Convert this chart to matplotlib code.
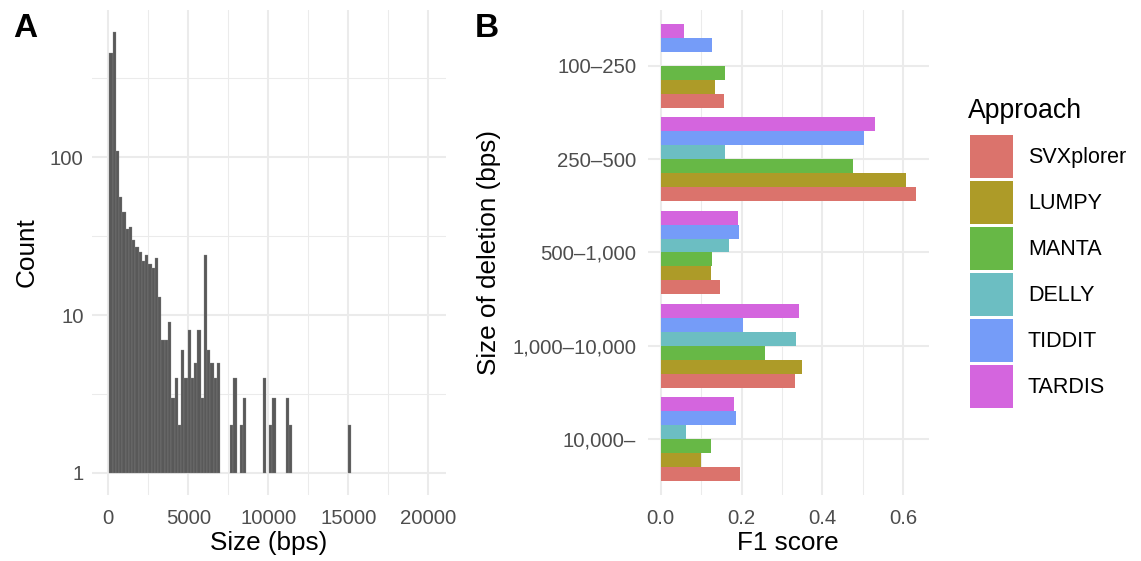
import numpy as np
import matplotlib
matplotlib.use("Agg")
import matplotlib.pyplot as plt
from matplotlib.patches import Patch

plt.rcParams['font.family'] = ['Liberation Sans', 'DejaVu Sans']

# ---- panel A data: histogram of deletion sizes (log10 counts) ----
bin_start = 60
bin_width = 204
bin_counts = [460, 621, 110, 56, 45, 35, 36, 30, 27, 25,
              22, 24, 21, 20, 23, 13, 7, 7, 9, 3,
              4, 2, 6, 4, 8, 4, 5, 8, 3, 24,
              6, 5, 4, 5, 0, 0, 0, 2, 4, 0,
              2, 3, 0, 0, 0, 0, 0, 4, 0, 2,
              3, 0, 0, 0, 3, 2, 0, 0, 0, 0,
              0, 0, 0, 0, 0, 0, 0, 0, 0, 0,
              0, 0, 0, 2]

# ---- panel B data: F1 score per size class ----
size_classes = ["100\u2013250", "250\u2013500", "500\u20131,000", "1,000\u201310,000", "10,000\u2013"]
approaches = ["SVXplorer", "LUMPY", "MANTA", "DELLY", "TIDDIT", "TARDIS"]
f1_svxplorer = [0.156, 0.631, 0.146, 0.332, 0.196]
f1_lumpy = [0.135, 0.606, 0.124, 0.350, 0.100]
f1_manta = [0.159, 0.477, 0.126, 0.258, 0.125]
f1_delly = [0.0, 0.159, 0.168, 0.334, 0.063]
f1_tiddit = [0.128, 0.504, 0.194, 0.204, 0.185]
f1_tardis = [0.058, 0.531, 0.192, 0.341, 0.182]
colors = ["#DB736C", "#AD9B28", "#67B846", "#6CBEC2", "#759CF8", "#D465DE"]

grid_col = "#EBEBEB"
tick_col = "#4D4D4D"
tick_fs = 14.7
title_fs = 18.8

fig = plt.figure(figsize=(11.41, 5.61), dpi=100)
W, H = 1141, 561
axA = fig.add_axes([92 / W, 1 - 495 / H, 354 / W, 485 / H])
axB = fig.add_axes([648 / W, 1 - 495 / H, 280.6 / W, 485 / H])

for ax in (axA, axB):
    for s in ax.spines.values():
        s.set_visible(False)
    ax.set_axisbelow(True)
    ax.tick_params(which='both', length=0, colors=tick_col, labelsize=tick_fs)
    ax.grid(which='major', color=grid_col, lw=1.5)
    ax.grid(which='minor', color=grid_col, lw=0.75)

# panel A
counts = np.array(bin_counts)
lefts = bin_start + bin_width * np.arange(len(counts))
show = counts >= 1
axA.bar(lefts[show], counts[show] - 1, width=bin_width, bottom=1, align='edge',
        color="#595959", edgecolor="#8c8c8c", linewidth=0.2)
axA.set_yscale('log')
axA.set_xlim(-1019, 21106)
axA.set_ylim(10 ** -0.14, 10 ** 2.933)
axA.set_xticks([0, 5000, 10000, 15000, 20000])
axA.set_xticklabels(["0", "5000", "10000", "15000", "20000"])
axA.set_xticks([2500, 7500, 12500, 17500], minor=True)
axA.set_yticks([1, 10, 100])
axA.set_yticklabels(["1", "10", "100"])
axA.set_yticks([10 ** 0.5, 10 ** 1.5, 10 ** 2.5], minor=True)
axA.yaxis.set_minor_formatter(plt.NullFormatter())
axA.tick_params(axis='x', pad=10)
axA.tick_params(axis='y', pad=6)
axA.set_xlabel("Size (bps)", fontsize=title_fs, labelpad=2)
axA.set_ylabel("Count", fontsize=title_fs, labelpad=8)

# panel B
ypos = np.arange(len(size_classes))[::-1] + 1.0
series = [f1_svxplorer, f1_lumpy, f1_manta, f1_delly, f1_tiddit, f1_tardis]
slot = 0.9 / len(approaches)
for i, (vals, c) in enumerate(zip(series, colors)):
    off = -0.45 + slot * (i + 0.5)
    axB.barh(ypos + off, vals, height=slot, color=c, linewidth=0)
axB.set_xlim(-0.0316, 0.663)
axB.set_ylim(0.4, 5.6)
axB.set_xticks([0.0, 0.2, 0.4, 0.6])
axB.set_xticklabels(["0.0", "0.2", "0.4", "0.6"])
axB.set_xticks([0.1, 0.3, 0.5], minor=True)
axB.set_yticks(ypos)
axB.set_yticklabels(size_classes)
axB.tick_params(axis='x', pad=10)
axB.tick_params(axis='y', pad=8.5)
axB.set_xlabel("F1 score", fontsize=title_fs, labelpad=2)
axB.set_ylabel("Size of deletion (bps)", fontsize=title_fs, labelpad=8)

# legend
handles = [Patch(facecolor=c, edgecolor='none', label=a) for a, c in zip(approaches, colors)]
fig.legend(handles=handles, loc='upper left',
           bbox_to_anchor=(970 / W, 1 - 135 / H), frameon=False,
           fontsize=15.5, borderpad=0, borderaxespad=0,
           handlelength=1.98, handleheight=2.68, labelspacing=0.153,
           handletextpad=0.71)
fig.text(968 / W, 1 - 118 / H, "Approach", fontsize=19.2, va='baseline')

fig.text(13 / W, 1 - 37 / H, "A", fontsize=24, fontweight='bold')
fig.text(475 / W, 1 - 37 / H, "B", fontsize=24, fontweight='bold')

fig.savefig("out.png", dpi=100)
